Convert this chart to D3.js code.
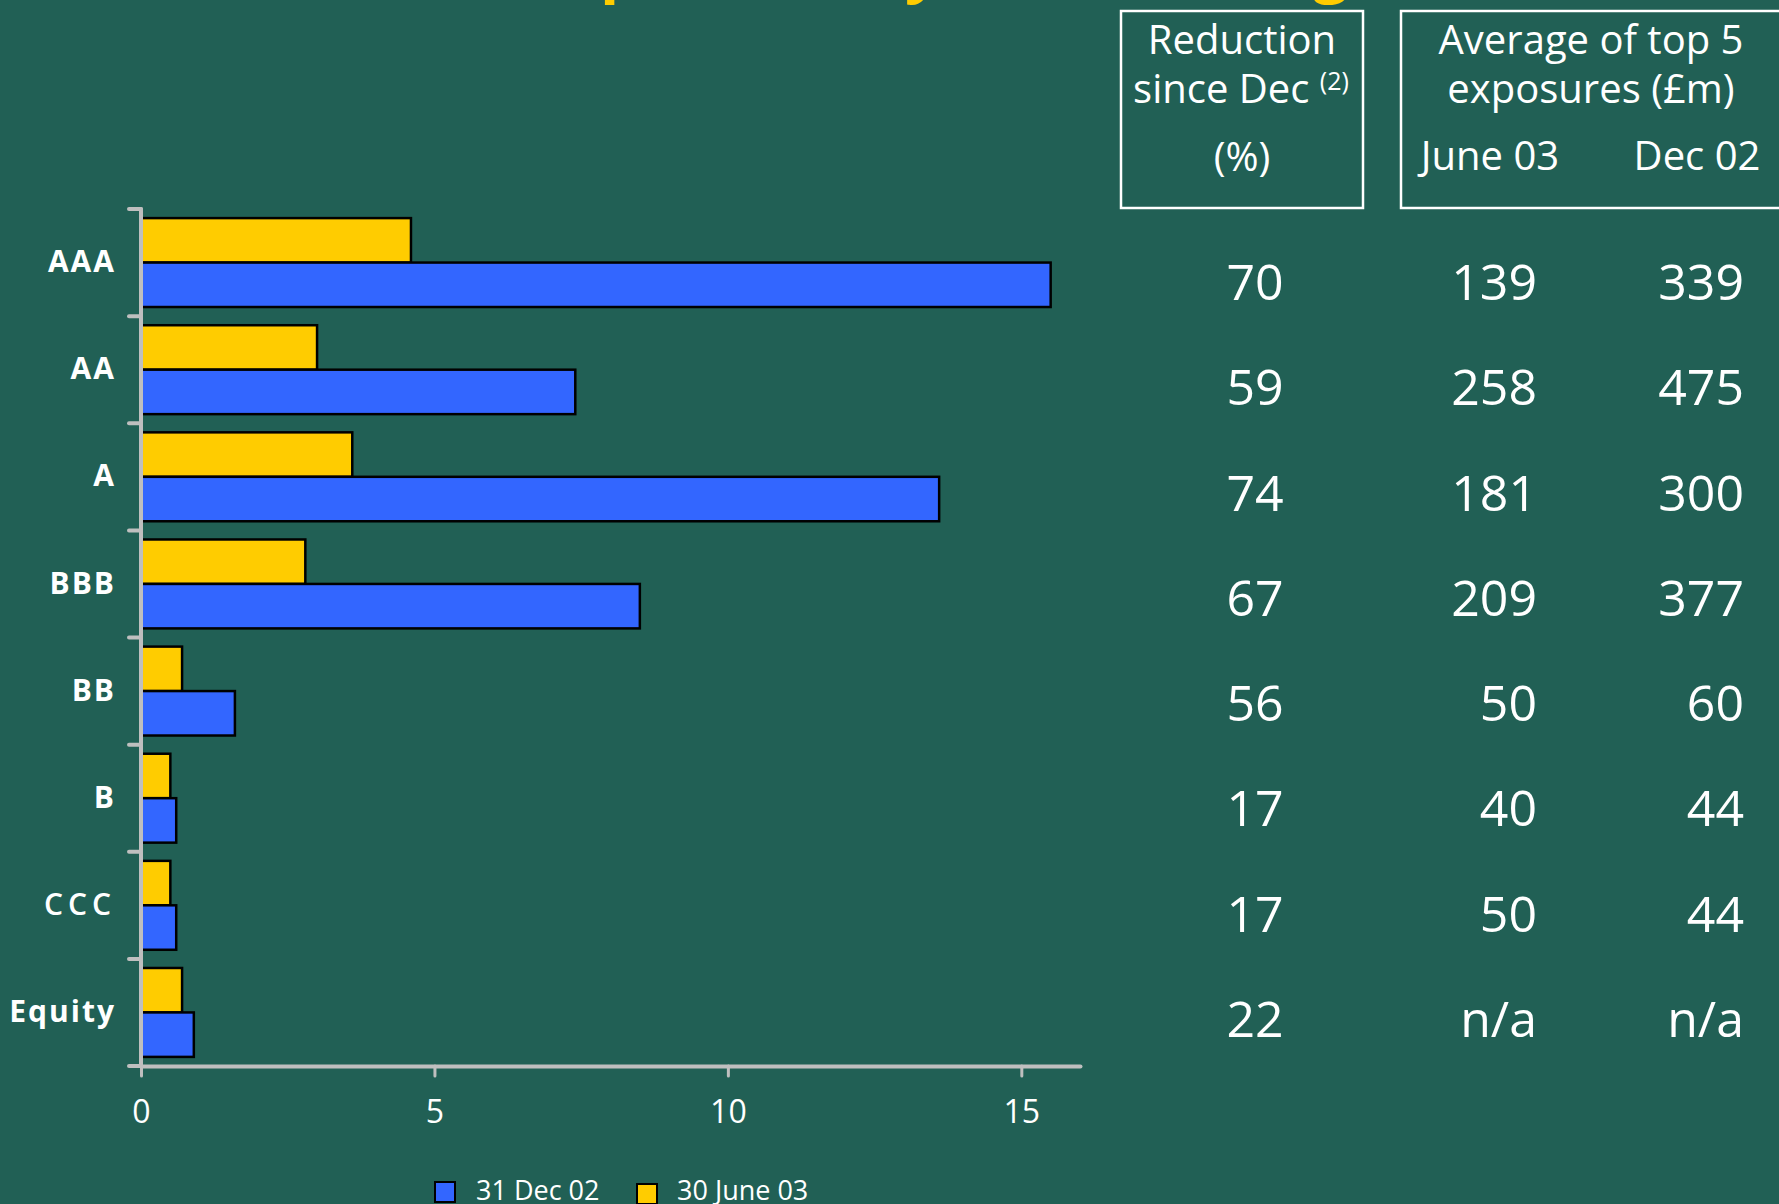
<!DOCTYPE html>
<html><head><meta charset="utf-8">
<script src="https://cdn.jsdelivr.net/npm/d3@7"></script>
<style>
html,body{margin:0;padding:0;background:#216055;overflow:hidden;}
svg{display:block;font-family:"Open Sans",sans-serif;}
</style></head>
<body>
<script>
const categories = ["AAA","AA","A","BBB","BB","B","CCC","Equity"];
const seriesNames = ["31 Dec 02","30 June 03"];
const dec02 = [15.5,7.4,13.6,8.5,1.6,0.6,0.6,0.9];
const jun03 = [4.6,3.0,3.6,2.8,0.7,0.5,0.5,0.7];
const xTicks = [0,5,10,15];
const reductionPct = ["70","59","74","67","56","17","17","22"];
const avgJune03 = ["139","258","181","209","50","40","50","n/a"];
const avgDec02 = ["339","475","300","377","60","44","44","n/a"];
const titleText = "Reduced exposures by credit rating";

const W = 1779, H = 1204;
const BG = "#216055", BLUE = "#3366FF", YELLOW = "#FFCC00", AXIS = "#bfbfbf";
const svg = d3.select("body").append("svg").attr("width", W).attr("height", H);
svg.append("rect").attr("width", W).attr("height", H).attr("fill", BG);

// title (cut off at top, only descenders visible)
const title = svg.append("text").attr("y", -10).attr("font-size", 63).attr("font-weight", 700)
  .attr("fill", YELLOW).text(titleText);
const pIdx = titleText.indexOf("p");
const pre = title.node().getSubStringLength(0, pIdx);
title.attr("x", 600 - pre);

// scales
const x = d3.scaleLinear().domain([0, 16]).range([141, 1080]);
const y = d3.scaleBand().domain(categories).range([209, 1066]).paddingInner(0.17).paddingOuter(0.085);
const ySub = d3.scaleBand().domain(["jun03","dec02"]).range([0, y.bandwidth()]);

const rows = categories.map((c, i) => ({cat: c, dec02: dec02[i], jun03: jun03[i]}));

// bars
const g = svg.append("g");
const bars = [];
rows.forEach(r => {
  bars.push({cat: r.cat, key: "jun03", v: r.jun03, color: YELLOW});
  bars.push({cat: r.cat, key: "dec02", v: r.dec02, color: BLUE});
});
g.selectAll("rect.bar").data(bars).join("rect").attr("class", "bar")
  .attr("x", x(0))
  .attr("y", d => y(d.cat) + ySub(d.key))
  .attr("width", d => x(d.v) - x(0))
  .attr("height", ySub.bandwidth())
  .attr("fill", d => d.color)
  .attr("stroke", "#000").attr("stroke-width", 2.5);

// y axis
const yAxis = svg.append("g").attr("transform", `translate(${x(0)},0)`)
  .call(d3.axisLeft(y).tickSize(0).tickPadding(25));
yAxis.select(".domain").remove();
yAxis.selectAll("text").attr("fill", "#fff").attr("font-size", 30)
  .attr("font-weight", d => d === "CCC" ? 600 : 700)
  .attr("letter-spacing", d => d === "CCC" ? 5 : 2)
  .attr("font-family", "'Open Sans',sans-serif");
const r0 = y.range();
svg.append("line").attr("x1", x(0)).attr("x2", x(0)).attr("y1", r0[0]).attr("y2", r0[1])
  .attr("stroke", AXIS).attr("stroke-width", 4).attr("stroke-linecap", "round");
const boundaries = d3.range(categories.length + 1).map(i => r0[0] + i * y.step());
svg.selectAll("line.ytick").data(boundaries).join("line").attr("class", "ytick")
  .attr("x1", x(0) - 12).attr("x2", x(0)).attr("y1", d => d).attr("y2", d => d)
  .attr("stroke", AXIS).attr("stroke-width", 4).attr("stroke-linecap", "round");

// x axis
const xAxis = svg.append("g").attr("transform", `translate(0,${r0[1]})`)
  .call(d3.axisBottom(x).tickValues(xTicks).tickSize(10).tickSizeOuter(0).tickPadding(24));
xAxis.select(".domain").attr("stroke", AXIS).attr("stroke-width", 4).attr("stroke-linecap", "round");
xAxis.selectAll(".tick line").attr("stroke", AXIS).attr("stroke-width", 3).attr("stroke-linecap", "round");
xAxis.selectAll("text").attr("fill", "#fff").attr("font-size", 32)
  .attr("font-family", "'Open Sans',sans-serif");

// legend
const legendItems = [
  {name: seriesNames[0], color: BLUE, sx: 435, tx: 476, sy: 1182},
  {name: seriesNames[1], color: YELLOW, sx: 637, tx: 677, sy: 1184}
];
const lg = svg.append("g");
lg.selectAll("rect").data(legendItems).join("rect")
  .attr("x", d => d.sx).attr("y", d => d.sy).attr("width", 20).attr("height", 20)
  .attr("fill", d => d.color).attr("stroke", "#000").attr("stroke-width", 2);
lg.selectAll("text").data(legendItems).join("text")
  .attr("x", d => d.tx).attr("y", 1200).attr("font-size", 27).attr("fill", "#fff")
  .text(d => d.name);

// table header
const th = svg.append("g").attr("fill", "#fff").attr("font-size", 40).attr("text-anchor", "middle");
svg.append("rect").attr("x", 1121).attr("y", 11).attr("width", 242).attr("height", 197)
  .attr("fill", "none").attr("stroke", "#fff").attr("stroke-width", 2.5);
svg.append("rect").attr("x", 1401).attr("y", 11).attr("width", 420).attr("height", 197)
  .attr("fill", "none").attr("stroke", "#fff").attr("stroke-width", 2.5);
th.append("text").attr("x", 1242).attr("y", 54).text("Reduction");
const sd = th.append("text").attr("x", 1241).attr("y", 103);
sd.append("tspan").text("since Dec ");
sd.append("tspan").attr("font-size", 25).attr("dy", -13).text("(2)");
th.append("text").attr("x", 1242).attr("y", 171).text("(%)");
th.append("text").attr("x", 1591).attr("y", 54).text("Average of top 5");
th.append("text").attr("x", 1591).attr("y", 103).text("exposures (£m)");
th.append("text").attr("x", 1490).attr("y", 170).text("June 03");
th.append("text").attr("x", 1697).attr("y", 170).text("Dec 02");

// table body
const rowY = d3.scalePoint().domain(categories).range([300, 1037]);
const tb = svg.append("g").attr("fill", "#fff").attr("font-size", 50);
tb.selectAll("text.c1").data(categories).join("text").attr("class", "c1")
  .attr("x", 1255).attr("y", d => rowY(d)).attr("text-anchor", "middle")
  .text((d, i) => reductionPct[i]);
tb.selectAll("text.c2").data(categories).join("text").attr("class", "c2")
  .attr("x", 1537).attr("y", d => rowY(d)).attr("text-anchor", "end")
  .text((d, i) => avgJune03[i]);
tb.selectAll("text.c3").data(categories).join("text").attr("class", "c3")
  .attr("x", 1744).attr("y", d => rowY(d)).attr("text-anchor", "end")
  .text((d, i) => avgDec02[i]);
</script>
</body></html>
